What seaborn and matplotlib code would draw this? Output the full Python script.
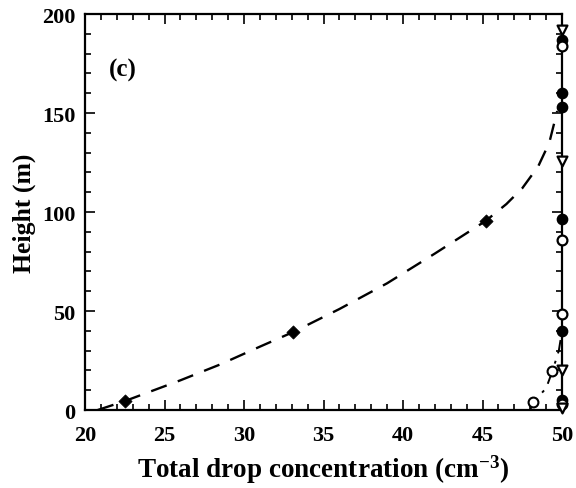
import matplotlib
matplotlib.use("Agg")
import matplotlib.pyplot as plt
import seaborn as sns
import pandas as pd
from matplotlib.ticker import MultipleLocator

# ---- data ----
curve_x = [20.8, 22.5, 24.0, 26.0, 28.5, 31.0, 33.1, 36.0, 39.0, 42.0, 45.2, 46.5, 47.5, 48.5, 49.2, 49.7]
curve_y = [0.0, 4.5, 9.0, 15.0, 23.0, 32.0, 39.4, 51.0, 64.0, 79.0, 95.5, 104.0, 112.0, 123.0, 135.0, 151.0]
diamond_x = [22.5, 33.1, 45.2]
diamond_y = [4.5, 39.4, 95.5]

dashdot_x = [48.0, 48.2, 49.0, 49.4, 49.8, 50.0]
dashdot_y = [0.0, 4.0, 11.0, 19.7, 30.0, 40.0]
opencirc2_x = [48.2, 49.4]
opencirc2_y = [4.0, 19.7]

edge_x = 50.0
filled_circle_y = [187, 160, 153, 96.5, 40, 5]
open_circle_y = [184, 86, 48.5, 3]
open_tri_y = [192, 126, 20, 1]

xlabel = r"Total drop concentration (cm$^{\mathbf{-3}}$)"
ylabel = "Height (m)"
panel_label = "(c)"

sns.set_theme(style="ticks")
plt.rcParams["font.family"] = ["Liberation Serif", "DejaVu Serif"]
plt.rcParams["font.weight"] = "bold"
plt.rcParams["text.color"] = "black"
plt.rcParams["axes.labelcolor"] = "black"
plt.rcParams["xtick.color"] = "black"
plt.rcParams["ytick.color"] = "black"
plt.rcParams["mathtext.fontset"] = "custom"
plt.rcParams["mathtext.rm"] = "Liberation Serif:bold"
plt.rcParams["mathtext.bf"] = "Liberation Serif:bold"
plt.rcParams["mathtext.default"] = "bf"

fig = plt.figure(figsize=(5.76, 4.89), dpi=100)
ax = fig.add_axes([0.1476, 0.1595, 0.8281, 0.8098])

sns.lineplot(x=curve_x, y=curve_y, ax=ax, color="black", lw=1.7,
             sort=False, estimator=None, linestyle=(0, (7, 5)))
sns.scatterplot(x=diamond_x, y=diamond_y, ax=ax, marker="D", s=45,
                color="black", edgecolor="black", zorder=5)

sns.lineplot(x=dashdot_x, y=dashdot_y, ax=ax, color="black", lw=1.4,
             sort=False, estimator=None, linestyle=(0, (7, 4, 1.5, 4)))
ax.scatter(opencirc2_x, opencirc2_y, s=50, facecolor="white",
           edgecolor="black", linewidth=1.5, zorder=6)

ax.scatter([edge_x] * len(filled_circle_y), filled_circle_y, s=55,
           color="black", zorder=7, clip_on=False)
ax.scatter([edge_x] * len(open_circle_y), open_circle_y, s=50,
           facecolor="white", edgecolor="black", linewidth=1.6, zorder=7, clip_on=False)
ax.scatter([edge_x] * len(open_tri_y), open_tri_y, s=50, marker="v",
           facecolor="white", edgecolor="black", linewidth=1.6, zorder=7, clip_on=False)

ax.set_xlim(20, 50)
ax.set_ylim(0, 200)
ax.xaxis.set_major_locator(MultipleLocator(5))
ax.xaxis.set_minor_locator(MultipleLocator(1))
ax.yaxis.set_major_locator(MultipleLocator(50))
ax.yaxis.set_minor_locator(MultipleLocator(10))
ax.tick_params(which="both", direction="in", top=True, right=True, width=1.2, colors="black")
ax.tick_params(which="major", length=7, labelsize=16, pad=7)
ax.tick_params(axis="x", which="major", pad=11)
ax.tick_params(which="minor", length=4)
for lab in ax.get_xticklabels() + ax.get_yticklabels():
    lab.set_fontweight("bold")
for sp in ax.spines.values():
    sp.set_linewidth(1.6)
    sp.set_color("black")

ax.set_xlabel(xlabel, fontsize=19.5, fontweight="bold", labelpad=5)
ax.set_ylabel(ylabel, fontsize=18.5, fontweight="bold", labelpad=4)
ax.text(21.5, 172, panel_label, fontsize=18, fontweight="bold", va="center", ha="left")

fig.savefig("out.png", dpi=100)
